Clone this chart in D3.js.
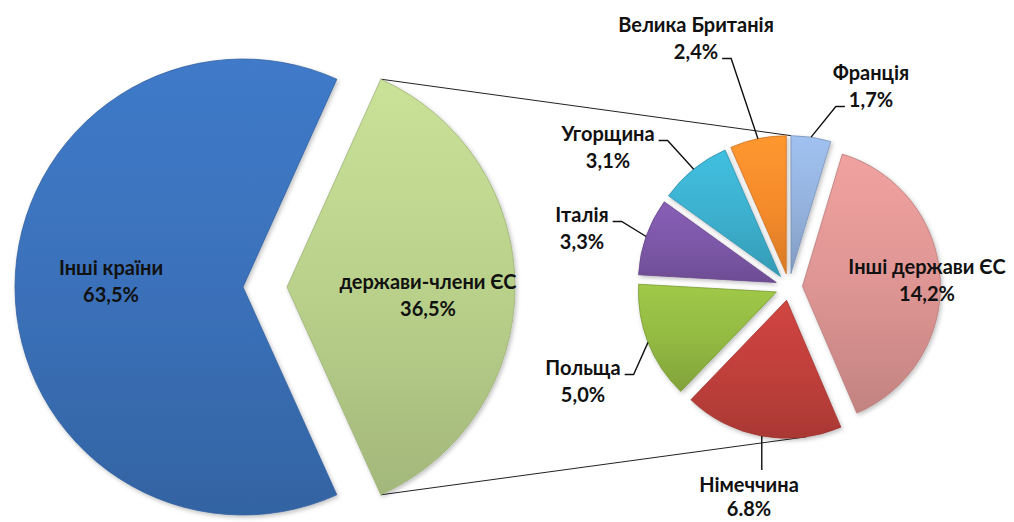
<!DOCTYPE html>
<html>
<head>
<meta charset="utf-8">
<script src="https://cdn.jsdelivr.net/npm/d3@7"></script>
<style>
  html, body { margin: 0; padding: 0; background: #fff; }
  svg { display: block; }
  .lbl { font-family: Lato, 'Open Sans', sans-serif; font-weight: 700; font-size: 20px; fill: #111; }
</style>
</head>
<body>
<div id="chart"></div>
<script>
// main pie
const mainLabels = ['Інші країни', 'держави-члени ЄС'];
const mainValues = [63.5, 36.5];
const mainText = ['63,5%', '36,5%'];

// second pie (breakdown of EU members)
const subLabels = ['Франція', 'Інші держави ЄС', 'Німеччина', 'Польща', 'Італія', 'Угорщина', 'Велика Британія'];
const subValues = [1.7, 14.2, 6.8, 5.0, 3.3, 3.1, 2.4];
const subText = ['1,7%', '14,2%', '6.8%', '5,0%', '3,3%', '3,1%', '2,4%'];

const mainColors = ['#3a70b8', '#b8cf8a'];
const subColors = ['#93b1dc', '#dc9492', '#bf3f3b', '#92b842', '#7c57a7', '#3cafcd', '#f48a2b'];

// label layout: line-1 centre, which line the leader attaches to, and side
const mainLabelPos = [[111, 268], [428, 282]];
const subLabelPos = [
    { x: 871, y: 73, line: 1, side: 'left' },
    { x: 927, y: 267, side: 'none' },
    { x: 749, y: 485, side: 'top', gap: 24 },
    { x: 583, y: 368, line: 0, side: 'right' },
    { x: 582, y: 215, line: 0, side: 'right' },
    { x: 608, y: 134, line: 0, side: 'right' },
    { x: 696, y: 25, line: 1, side: 'right' }
];

const width = 1014, height = 522;
const lineGap = 27;

const svg = d3.select('#chart').append('svg')
    .attr('width', width)
    .attr('height', height);

const defs = svg.append('defs');
const shadow = defs.append('filter').attr('id', 'shadow')
    .attr('x', '-20%').attr('y', '-20%').attr('width', '140%').attr('height', '140%');
shadow.append('feDropShadow')
    .attr('dx', 1.5).attr('dy', 2).attr('stdDeviation', 2)
    .attr('flood-color', '#000').attr('flood-opacity', 0.25);

function addGradient(id, base) {
    const c = d3.color(base);
    const g = defs.append('linearGradient').attr('id', id)
        .attr('x1', 0).attr('y1', 0).attr('x2', 0).attr('y2', 1);
    g.append('stop').attr('offset', '0%').attr('stop-color', c.brighter(0.25));
    g.append('stop').attr('offset', '55%').attr('stop-color', c);
    g.append('stop').attr('offset', '100%').attr('stop-color', c.darker(0.35));
}

// ---- main pie geometry ----
const mainCx = 243, mainCy = 287, mainR = 228;
const mainExplode = [0, 44];
const euHalf = mainValues[1] / d3.sum(mainValues) * Math.PI;

const mainPie = d3.pie().sort(null)
    .startAngle(Math.PI / 2 + euHalf)
    .endAngle(Math.PI / 2 + euHalf + 2 * Math.PI);
const mainArcs = mainPie(mainValues);
const mainArc = d3.arc().innerRadius(0).outerRadius(mainR);

// ---- second pie geometry ----
const subCx = 789, subCy = 287, subR = 138, subExplode = 13.5;
const subPie = d3.pie().sort(null).startAngle(0).endAngle(2 * Math.PI);
const subArcs = subPie(subValues);
const subArc = d3.arc().innerRadius(0).outerRadius(subR);

function offsetOf(a, dist) {
    const mid = (a.startAngle + a.endAngle) / 2;
    return [Math.sin(mid) * dist, -Math.cos(mid) * dist];
}
function polar(cx, cy, r, ang) {
    return [cx + Math.sin(ang) * r, cy - Math.cos(ang) * r];
}

// ---- connector lines ----
const eu = mainArcs[1];
const euOff = offsetOf(eu, mainExplode[1]);
const euC = [mainCx + euOff[0], mainCy + euOff[1]];
const topStart = polar(euC[0], euC[1], mainR, eu.startAngle);
const botStart = polar(euC[0], euC[1], mainR, eu.endAngle);

const fr = subArcs[0], de = subArcs[2];
const frOff = offsetOf(fr, subExplode), deOff = offsetOf(de, subExplode);
const topEnd = polar(subCx + frOff[0], subCy + frOff[1], subR, fr.startAngle);
const botEnd = polar(subCx + deOff[0], subCy + deOff[1], subR, Math.PI * 0.953);

svg.append('g').selectAll('line')
    .data([[topStart, topEnd], [botStart, botEnd]])
    .join('line')
    .attr('x1', d => d[0][0]).attr('y1', d => d[0][1])
    .attr('x2', d => d[1][0]).attr('y2', d => d[1][1])
    .attr('stroke', '#222').attr('stroke-width', 1);

// ---- draw main slices ----
mainColors.forEach((c, i) => addGradient('mg' + i, c));
svg.append('g').attr('transform', `translate(${mainCx},${mainCy})`)
    .selectAll('path')
    .data(mainArcs)
    .join('path')
    .attr('transform', (d, i) => `translate(${offsetOf(d, mainExplode[i])})`)
    .attr('d', mainArc)
    .attr('fill', (d, i) => `url(#mg${i})`)
    .attr('stroke', (d, i) => d3.color(mainColors[i]).darker(0.4))
    .attr('stroke-width', 0.8)
    .attr('filter', 'url(#shadow)');

// ---- draw second pie slices ----
subColors.forEach((c, i) => addGradient('sg' + i, c));
svg.append('g').attr('transform', `translate(${subCx},${subCy})`)
    .selectAll('path')
    .data(subArcs)
    .join('path')
    .attr('transform', d => `translate(${offsetOf(d, subExplode)})`)
    .attr('d', subArc)
    .attr('fill', (d, i) => `url(#sg${i})`)
    .attr('stroke', (d, i) => d3.color(subColors[i]).darker(0.5))
    .attr('stroke-width', 0.8)
    .attr('filter', 'url(#shadow)');

// ---- labels ----
function drawLabel(g, x, y, name, pct, gap) {
    const t = g.append('g');
    const a = t.append('text').attr('class', 'lbl').attr('x', x).attr('y', y)
        .attr('dy', '0.35em').attr('text-anchor', 'middle').text(name);
    const b = t.append('text').attr('class', 'lbl').attr('x', x).attr('y', y + gap)
        .attr('dy', '0.35em').attr('text-anchor', 'middle').text(pct);
    return [a.node().getComputedTextLength(), b.node().getComputedTextLength()];
}

const labelG = svg.append('g');
mainArcs.forEach((d, i) => {
    drawLabel(labelG, mainLabelPos[i][0], mainLabelPos[i][1], mainLabels[i], mainText[i], lineGap);
});

const leaderG = svg.append('g');
subArcs.forEach((d, i) => {
    const p = subLabelPos[i];
    const widths = drawLabel(labelG, p.x, p.y, subLabels[i], subText[i], p.gap || lineGap);
    if (p.side === 'none') return;
    const off = offsetOf(d, subExplode);
    const mid = (d.startAngle + d.endAngle) / 2;
    const start = polar(subCx + off[0], subCy + off[1], subR, mid);
    let pts;
    if (p.side === 'top') {
        pts = [start, [start[0], p.y - 15]];
    } else {
        const w = widths[p.line];
        const ly = p.y + p.line * lineGap + 6.5;
        const dir = p.side === 'right' ? 1 : -1;
        const ex = p.x + dir * (w / 2 + 4);
        pts = [start, [ex + dir * 9, ly], [ex, ly]];
    }
    leaderG.append('path')
        .attr('d', d3.line()(pts))
        .attr('fill', 'none')
        .attr('stroke', '#111')
        .attr('stroke-width', 1.4);
});
</script>
</body>
</html>
